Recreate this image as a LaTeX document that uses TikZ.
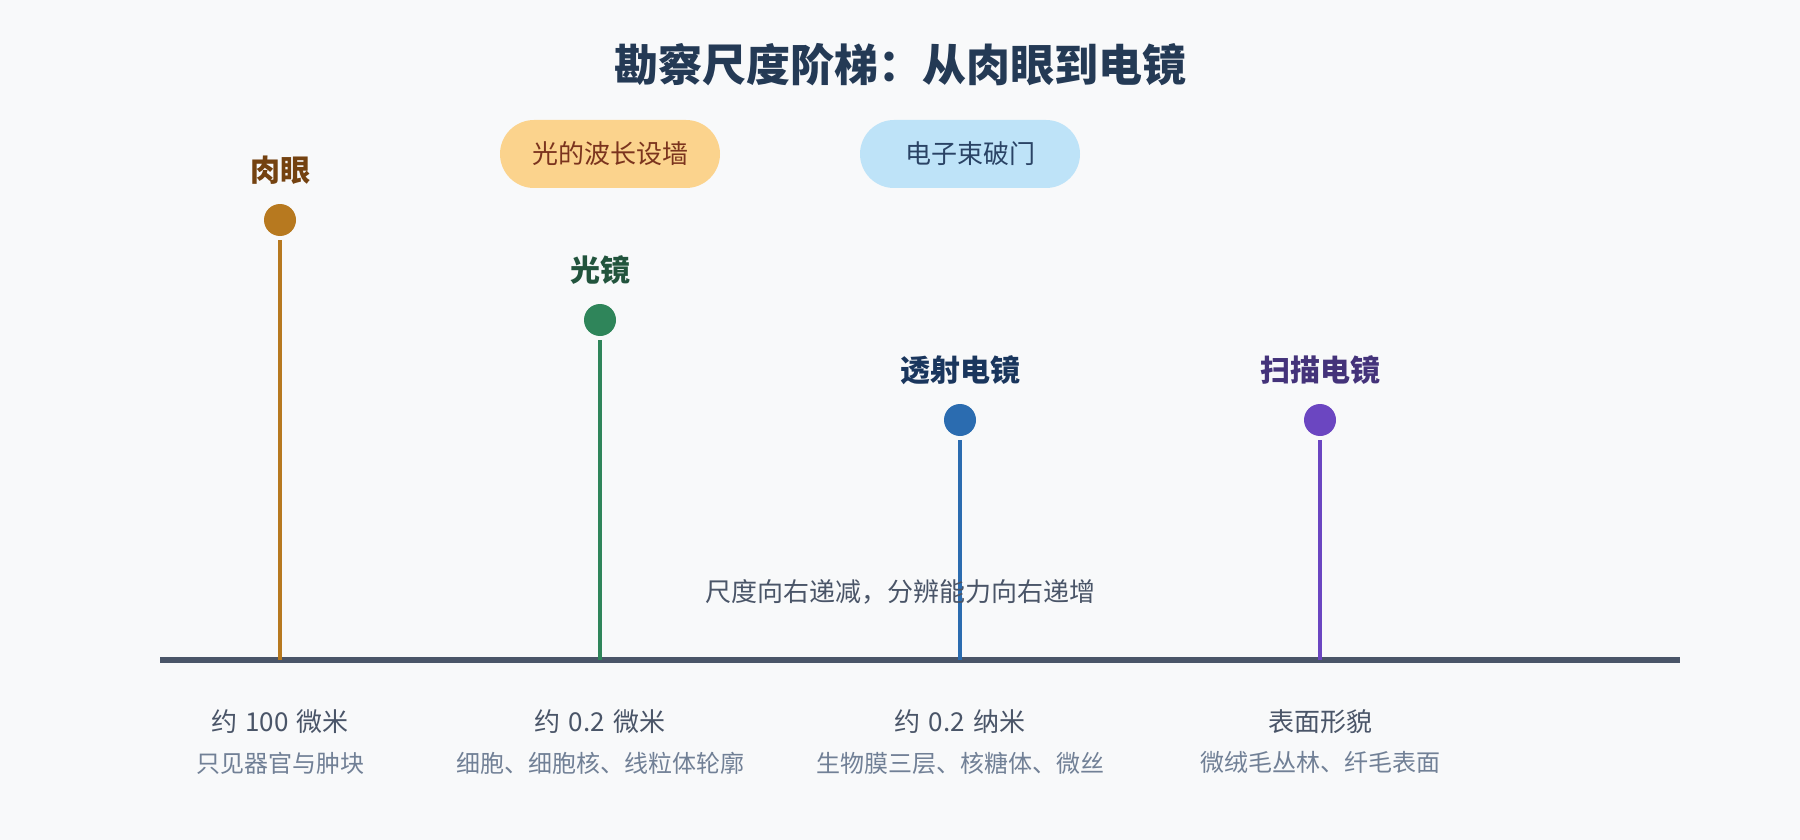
\documentclass[tikz,border=0pt]{standalone}
\usepackage{fontspec}
\setmainfont{Noto Sans CJK SC}
\usetikzlibrary{shapes.misc}
\definecolor{bg}{HTML}{F8F9FA}
\definecolor{titlec}{HTML}{243A55}
\definecolor{axisc}{HTML}{4A5568}
\definecolor{subc}{HTML}{718096}
\definecolor{eyeC}{HTML}{B7791F}
\definecolor{eyeT}{HTML}{744210}
\definecolor{lmC}{HTML}{2F855A}
\definecolor{lmT}{HTML}{22543D}
\definecolor{temC}{HTML}{2B6CB0}
\definecolor{temT}{HTML}{1A365D}
\definecolor{semC}{HTML}{6B46C1}
\definecolor{semT}{HTML}{44337A}
\definecolor{pillAf}{HTML}{FBD38D}
\definecolor{pillAt}{HTML}{7B341E}
\definecolor{pillBf}{HTML}{BEE3F8}
\definecolor{pillBt}{HTML}{2A4365}
\tikzset{
  dot/.style={circle, inner sep=0pt, minimum size=32pt, draw=none, fill=#1},
  stem/.style={line width=4pt, draw=#1},
  lbl/.style={inner sep=0pt, font=\fontsize{30pt}{36pt}\selectfont\bfseries, text=#1},
  pill/.style={rounded rectangle, minimum width=220pt, minimum height=68pt, inner sep=0pt, draw=none, fill=#1, font=\fontsize{26pt}{32pt}\selectfont},
  scaletxt/.style={inner sep=0pt, font=\fontsize{26pt}{32pt}\selectfont, text=axisc},
  desctxt/.style={inner sep=0pt, font=\fontsize{24pt}{30pt}\selectfont, text=subc},
}
\begin{document}
\begin{tikzpicture}[x=1pt, y=-1pt]
\fill[bg] (0,0) rectangle (1800,840);
\useasboundingbox (0,0) rectangle (1800,840);
% title
\node[inner sep=0pt, font=\fontsize{44pt}{52pt}\selectfont\bfseries, text=titlec] (title) at (900,65) {勘察尺度阶梯：从肉眼到电镜};
% pills
\node[pill=pillAf, text=pillAt] (wall) at (610,154) {光的波长设墙};
\node[pill=pillBf, text=pillBt] (gate) at (970,154) {电子束破门};
% axis
\coordinate (axL) at (160,660);
\coordinate (axR) at (1680,660);
\draw[line width=6pt, axisc] (axL) -- (axR);
% markers
\coordinate (b1) at (280,660);
\coordinate (b2) at (600,660);
\coordinate (b3) at (960,660);
\coordinate (b4) at (1320,660);
\node[dot=eyeC] (c1) at (280,220) {};
\node[dot=lmC] (c2) at (600,320) {};
\node[dot=temC] (c3) at (960,420) {};
\node[dot=semC] (c4) at (1320,420) {};
\draw[stem=eyeC] ([yshift=-4pt]c1.south) -- (b1);
\draw[stem=lmC] ([yshift=-4pt]c2.south) -- (b2);
\draw[stem=temC] ([yshift=-4pt]c3.south) -- (b3);
\draw[stem=semC] ([yshift=-4pt]c4.south) -- (b4);
\node[lbl=eyeT] (l1) at (280,170) {肉眼};
\node[lbl=lmT] (l2) at (600,270) {光镜};
\node[lbl=temT] (l3) at (960,370) {透射电镜};
\node[lbl=semT] (l4) at (1320,370) {扫描电镜};
% middle note
\node[scaletxt] (note) at (900,592) {尺度向右递减，分辨能力向右递增};
% bottom labels
\node[scaletxt] (s1) at (280,722) {约\hspace{8pt}100\hspace{8pt}微米};
\node[scaletxt] (s2) at (600,722) {约\hspace{8pt}0.2\hspace{8pt}微米};
\node[scaletxt] (s3) at (960,722) {约\hspace{8pt}0.2\hspace{8pt}纳米};
\node[scaletxt] (s4) at (1320,722) {表面形貌};
\node[desctxt] (d1) at (280,763) {只见器官与肿块};
\node[desctxt] (d2) at (600,763) {细胞、细胞核、线粒体轮廓};
\node[desctxt] (d3) at (960,763) {生物膜三层、核糖体、微丝};
\node[desctxt] (d4) at (1320,763) {微绒毛丛林、纤毛表面};
\end{tikzpicture}
\end{document}
